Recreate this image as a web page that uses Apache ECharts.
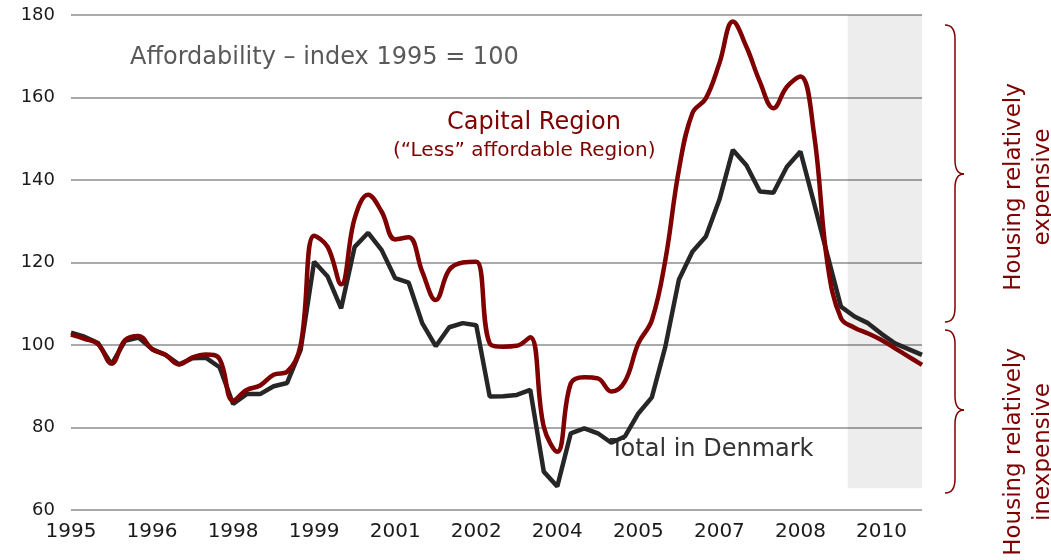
<!DOCTYPE html>
<html>
<head>
<meta charset="utf-8">
<style>
  html, body { margin: 0; padding: 0; background: #fff; }
  #chart { width: 1051px; height: 560px; }
</style>
<script src="https://cdn.jsdelivr.net/npm/echarts@6/dist/echarts.min.js"></script>
</head>
<body>
<div id="chart"></div>
<script>
// quarterly index, 1995Q1 .. 2010Q4 (64 quarters)
const tickLabels = ['1995', '1996', '1998', '1999', '2001', '2002', '2004', '2005', '2007', '2008', '2010'];

const totalDenmark = [
  103.0, 102.0, 100.5, 95.3, 101.0, 101.8, 99.0, 97.6, 95.3, 96.8,
  96.9, 94.6, 85.7, 88.1, 88.1, 90.0, 90.8, 98.8, 120.2, 116.6,
  108.9, 123.8, 127.2, 123.0, 116.2, 115.1, 105.3, 99.7, 104.3, 105.3,
  104.8, 87.5, 87.6, 87.9, 89.1, 69.3, 65.7, 78.6, 79.8, 78.6,
  76.3, 77.8, 83.4, 87.3, 99.6, 115.8, 122.6, 126.3, 135.2, 147.3,
  143.6, 137.2, 136.9, 143.2, 146.9, 134.5, 121.8, 109.3, 106.9, 105.3,
  102.7, 100.4, 99.0, 97.6
];

const capitalRegion = [
  102.5, 101.5, 100.2, 95.5, 101.2, 102.2, 99.0, 97.6, 95.3, 97.0,
  97.7, 96.6, 86.5, 89.1, 90.2, 92.8, 93.5, 100.0, 126.5, 123.8,
  114.7, 130.7, 136.4, 132.3, 125.6, 126.1, 117.8, 110.9, 118.2, 120.0,
  120.2, 100.4, 99.6, 99.8, 101.9, 80.2, 74.1, 90.7, 92.2, 91.9,
  88.7, 91.1, 100.4, 106.0, 120.6, 142.4, 156.2, 159.8, 168.3, 178.4,
  172.3, 163.8, 157.4, 162.6, 165.1, 151.3, 119.8, 106.5, 104.2, 102.8,
  101.2, 99.2, 97.2, 95.2
];

// forecast period (shaded)
const forecastStart = 57.5;
const forecastEnd = 63;

const chart = echarts.init(document.getElementById('chart'));

const toPairs = (arr) => arr.map((v, i) => [i, v]);

// curly brace "}" made of curves and lines
function brace(x, top, mid, bottom) {
  const s = { stroke: '#7f0000', fill: null, lineWidth: 1.5 };
  const sx = x + 10, tx = x + 19;
  return [
    { type: 'bezierCurve', shape: { x1: x, y1: top, cpx1: sx, cpy1: top, x2: sx, y2: top + 14 }, style: s },
    { type: 'line', shape: { x1: sx, y1: top + 14, x2: sx, y2: mid - 14 }, style: s },
    { type: 'bezierCurve', shape: { x1: sx, y1: mid - 14, cpx1: sx, cpy1: mid, x2: tx, y2: mid }, style: s },
    { type: 'bezierCurve', shape: { x1: tx, y1: mid, cpx1: sx, cpy1: mid, x2: sx, y2: mid + 14 }, style: s },
    { type: 'line', shape: { x1: sx, y1: mid + 14, x2: sx, y2: bottom - 14 }, style: s },
    { type: 'bezierCurve', shape: { x1: sx, y1: bottom - 14, cpx1: sx, cpy1: bottom, x2: x, y2: bottom }, style: s }
  ];
}

const option = {
  animation: false,
  grid: { left: 71, right: 129, top: 15, bottom: 50 },
  xAxis: {
    type: 'value',
    min: 0,
    max: 63,
    interval: 6,
    axisLine: { show: false },
    axisTick: { show: false },
    splitLine: { show: false },
    axisLabel: {
      showMaxLabel: false,
      margin: 12,
      color: '#1a1a1a',
      fontFamily: 'DejaVu Sans',
      fontSize: 20,
      formatter: (v) => (v % 6 === 0 ? tickLabels[v / 6] : '')
    }
  },
  yAxis: {
    type: 'value',
    min: 60,
    max: 180,
    interval: 20,
    axisLine: { show: false },
    axisTick: { show: false },
    axisLabel: {
      margin: 16,
      color: '#1a1a1a',
      fontFamily: 'DejaVu Sans',
      fontSize: 18
    },
    splitLine: { lineStyle: { color: '#8c8c8c', width: 1.5 } }
  },
  visualMap: [
    {
      show: false, type: 'piecewise', seriesIndex: 0, dimension: 0,
      pieces: [{ gte: 0, lte: forecastStart, color: '#262626' }, { gt: forecastStart, lte: forecastEnd, color: '#474747' }]
    },
    {
      show: false, type: 'piecewise', seriesIndex: 1, dimension: 0,
      pieces: [{ gte: 0, lte: forecastStart, color: '#7f0000' }, { gt: forecastStart, lte: forecastEnd, color: '#993333' }]
    }
  ],
  series: [
    {
      name: 'Total in Denmark',
      type: 'line',
      data: toPairs(totalDenmark),
      showSymbol: false,
      lineStyle: { width: 4.5, color: '#262626' },
      z: 3
    },
    {
      name: 'Capital Region',
      type: 'line',
      data: toPairs(capitalRegion),
      showSymbol: false,
      smooth: 0.4,
      lineStyle: { width: 4.5, color: '#7f0000' },
      z: 4
    },
    {
      // forecast shading
      type: 'line',
      data: [],
      silent: true,
      z: 1,
      markArea: {
        silent: true,
        itemStyle: { color: 'rgba(0,0,0,0.07)' },
        data: [[{ coord: [forecastStart, 65.3] }, { coord: [forecastEnd, 180] }]]
      }
    }
  ],
  graphic: [
    {
      type: 'text', left: 130, top: 46,
      style: { text: 'Affordability \u2013 index 1995 = 100', fill: '#595959', font: '24px "DejaVu Sans"' }
    },
    {
      type: 'text', left: 447, top: 111,
      style: { text: 'Capital Region', fill: '#7f0000', font: '24px "DejaVu Sans"' }
    },
    {
      type: 'text', left: 393, top: 141,
      style: { text: '(\u201cLess\u201d affordable Region)', fill: '#7f0000', font: '20px "DejaVu Sans"' }
    },
    {
      type: 'text', left: 610, top: 438,
      style: { text: 'Total in Denmark', fill: '#333333', font: '24px "DejaVu Sans"' }
    },
    ...brace(945, 25, 174, 322),
    ...brace(945, 330, 410, 493),
    {
      type: 'text', x: 1029, y: 187, rotation: Math.PI / 2,
      style: {
        text: 'Housing relatively\nexpensive', fill: '#7f0000', font: '23px "DejaVu Sans"',
        align: 'center', verticalAlign: 'middle', lineHeight: 29
      }
    },
    {
      type: 'text', x: 1029, y: 452, rotation: Math.PI / 2,
      style: {
        text: 'Housing relatively\ninexpensive', fill: '#7f0000', font: '23px "DejaVu Sans"',
        align: 'center', verticalAlign: 'middle', lineHeight: 29
      }
    }
  ]
};

chart.setOption(option);
</script>
</body>
</html>
